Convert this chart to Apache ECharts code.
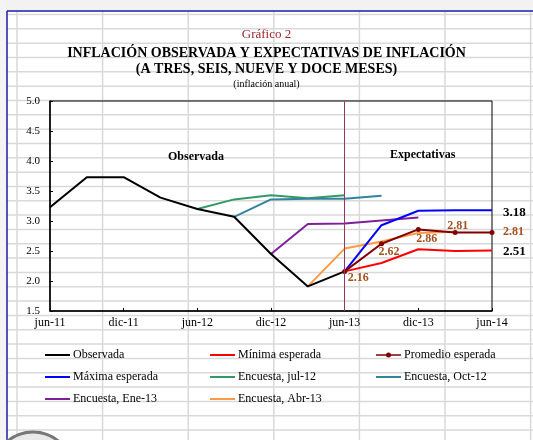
<!DOCTYPE html>
<html>
<head>
<meta charset="utf-8">
<script src="https://cdn.jsdelivr.net/npm/echarts@6/dist/echarts.min.js"></script>
<style>html,body{margin:0;padding:0;background:#fff}#c{width:533px;height:440px}</style>
</head>
<body>
<div id="c"></div>
<script>
const categories = ['jun-11','sep-11','dic-11','mar-12','jun-12','sep-12','dic-12','mar-13','jun-13','sep-13','dic-13','mar-14','jun-14'];
const observada = [3.23,3.73,3.73,3.39,3.20,3.07,2.45,1.91,2.16,null,null,null,null];
const minima    = [null,null,null,null,null,null,null,null,2.16,2.30,2.53,2.50,2.51];
const promedio  = [null,null,null,null,null,null,null,null,2.16,2.62,2.86,2.81,2.81];
const maxima    = [null,null,null,null,null,null,null,null,2.16,2.93,3.17,3.18,3.18];
const encJul12  = [null,null,null,null,3.20,3.36,3.43,3.38,3.43,null,null,null,null];
const encOct12  = [null,null,null,null,null,3.07,3.36,3.37,3.37,3.42,null,null,null];
const encEne13  = [null,null,null,null,null,null,2.45,2.95,2.96,3.01,3.06,null,null];
const encAbr13  = [null,null,null,null,null,null,null,1.91,2.54,2.66,2.80,2.82,null];
const yTicks = ['1.5','2.0','2.5','3.0','3.5','4.0','4.5','5.0'];
const divider = 'jun-13';

const serif = "'Liberation Serif','Times New Roman',serif";
const brown = '#a3521f';

// Excel-like background gridlines
const bg = [];
for (let k = 0; k < 7; k++) {
  const x = 17 + k * 85.6;
  bg.push({type:'line', z:-10, shape:{x1:x,y1:11,x2:x,y2:440}, style:{stroke:'#d9d9d9', lineWidth:1.5}});
}
for (let k = 0; k < 31; k++) {
  const y = 14.5 + k * 14.33;
  bg.push({type:'line', z:-10, shape:{x1:7,y1:y,x2:533,y2:y}, style:{stroke:'#d9d9d9', lineWidth:1.5}});
}
bg.push({type:'rect', z:-11, shape:{x:0,y:0,width:533,height:11}, style:{fill:'#f2f2f2'}});
bg.push({type:'rect', z:-11, shape:{x:0,y:0,width:7,height:440}, style:{fill:'#f4f4f4'}});
bg.push({type:'line', z:-5, shape:{x1:7,y1:11,x2:533,y2:11}, style:{stroke:'#1c1ca8', lineWidth:1.5}});
bg.push({type:'line', z:-5, shape:{x1:7,y1:11,x2:7,y2:440}, style:{stroke:'#1c1ca8', lineWidth:1.5}});
bg.push({type:'circle', z:-4, shape:{cx:33,cy:472,r:40}, style:{fill:'#e8e8e8', stroke:'#777', lineWidth:3}});
bg.push({type:'text', z:20, left:168, top:151, style:{text:'Observada', font:"bold 12px "+serif, fill:'#000'}});
bg.push({type:'text', z:20, left:390, top:149, style:{text:'Expectativas', font:"bold 12px "+serif, fill:'#000'}});

function lbl(arr, cfgs) {
  return arr.map((v, i) => cfgs[i] ? {value: v, label: Object.assign({show:true, position:'inside', verticalAlign:'middle', align:'left', color: brown, fontFamily: serif, fontWeight:'bold', fontSize:12, formatter: p => p.value.toFixed(2)}, cfgs[i])} : v);
}
const promData = lbl(promedio, {8:{offset:[3,7]}, 9:{offset:[-3,8]}, 10:{offset:[-2,10]}, 11:{offset:[-8,-6]}, 12:{offset:[11,0]}});

function line(name, data, color, extra) {
  return Object.assign({name, type:'line', data, symbol:'none', connectNulls:false,
    lineStyle:{color, width:2}, itemStyle:{color}, emphasis:{disabled:true}, animation:false}, extra||{});
}
const endLbl = {show:true, color:'#000', fontFamily:serif, fontWeight:'bold', fontSize:13, distance:11, formatter: p => p.value.toFixed(2)};

const lineIcon = 'path://M0,0 H25 V2 H0 Z';
const dotIcon = 'path://M0,4.2 H25 V5.8 H0 Z M10,5 A2.5,2.5 0 1 1 15,5 A2.5,2.5 0 1 1 10,5 Z';
function leg(left, names) {
  return {left, top:348, padding:0, orient:'vertical', itemGap:8, itemWidth:25, itemHeight:10,
    textStyle:{fontFamily:serif, fontSize:12, lineHeight:14, color:'#000', padding:[0,0,0,-2]},
    data: names.map(n => ({name:n, icon: n === 'Promedio esperada' ? dotIcon : lineIcon}))};
}

const option = {
  animation:false,
  textStyle:{fontFamily:serif},
  title:[
    {text:'Gráfico 2', left:'center', top:23, textStyle:{fontFamily:serif, fontWeight:'normal', fontSize:13, color:'#a0282d'}},
    {text:'INFLACIÓN OBSERVADA Y EXPECTATIVAS DE INFLACIÓN', left:'center', top:41, textStyle:{fontFamily:serif, fontWeight:'bold', fontSize:14, color:'#000'}},
    {text:'(A TRES, SEIS, NUEVE Y DOCE MESES)', left:'center', top:57, textStyle:{fontFamily:serif, fontWeight:'bold', fontSize:14, color:'#000'}},
    {text:'(inflación anual)', left:'center', top:74, textStyle:{fontFamily:serif, fontWeight:'normal', fontSize:10, color:'#000'}}
  ],
  graphic: bg,
  grid:{left:50, right:41, top:101, bottom:129, show:true, borderColor:'#000', borderWidth:1, backgroundColor:'transparent'},
  xAxis:{type:'category', data:categories, boundaryGap:false,
    axisLine:{lineStyle:{color:'#000', width:1.5}},
    axisTick:{inside:true, length:3, interval:1, lineStyle:{color:'#000'}},
    axisLabel:{interval:1, color:'#000', fontSize:12, fontFamily:serif, margin:6},
    splitLine:{show:false}},
  yAxis:{type:'value', min:1.5, max:5, interval:0.5,
    axisLine:{show:true, lineStyle:{color:'#000', width:1.5}},
    axisTick:{show:true, inside:true, length:3, lineStyle:{color:'#000'}},
    axisLabel:{color:'#000', fontSize:11, fontFamily:serif, margin:10, formatter: v => yTicks[Math.round((v-1.5)/0.5)]},
    splitLine:{show:false}},
  legend:[
    leg(45, ['Observada','Máxima esperada','Encuesta, Ene-13']),
    leg(210, ['Mínima esperada','Encuesta, jul-12','Encuesta, Abr-13']),
    leg(376, ['Promedio esperada','Encuesta, Oct-12'])
  ],
  series:[
    line('Encuesta, jul-12', encJul12, '#339966'),
    line('Encuesta, Oct-12', encOct12, '#31849b'),
    line('Encuesta, Ene-13', encEne13, '#7f1f99'),
    line('Encuesta, Abr-13', encAbr13, '#ff9a45'),
    line('Mínima esperada', minima, '#ff0000', {endLabel:Object.assign({}, endLbl, {offset:[0,1]})}),
    line('Máxima esperada', maxima, '#0000ff', {endLabel:Object.assign({}, endLbl, {offset:[0,2]})}),
    line('Promedio esperada', promData, '#800000', {symbol:'circle', symbolSize:5, showSymbol:true}),
    line('Observada', observada, '#000000', {markLine:{silent:true, symbol:'none', label:{show:false},
      lineStyle:{color:'#993366', width:1, type:'solid'}, data:[{xAxis:divider}], animation:false}})
  ]
};
const chart = echarts.init(document.getElementById('c'), null, {renderer:'canvas'});
chart.setOption(option);
</script>
</body>
</html>
